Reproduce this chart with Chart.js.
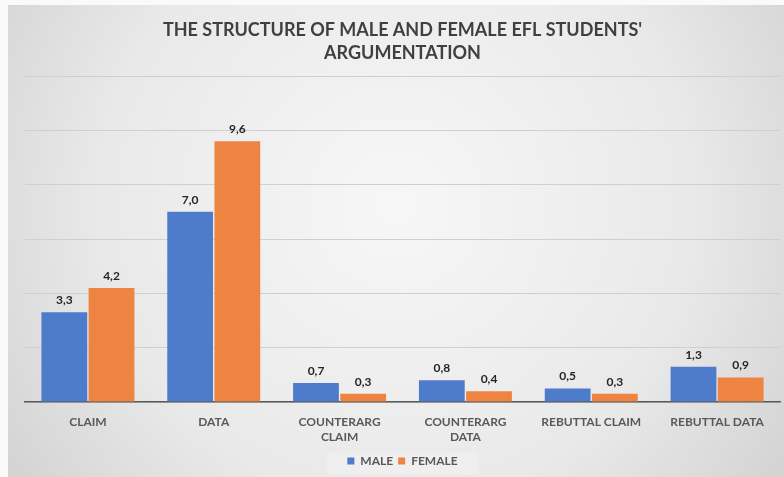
<!DOCTYPE html>
<html>
<head>
<meta charset="utf-8">
<script src="https://cdn.jsdelivr.net/npm/chart.js@4.4.2/dist/chart.umd.min.js"></script>
<style>
  html, body { margin: 0; padding: 0; background: #fafafa; }
  #wrap { position: absolute; left: 8px; top: 5px; width: 776px; height: 472px; }
</style>
</head>
<body>
<div id="wrap"><canvas id="chart"></canvas></div>
<script>
// données
const categories = ['CLAIM', 'DATA', ['COUNTERARG', 'CLAIM'], ['COUNTERARG', 'DATA'], 'REBUTTAL CLAIM', 'REBUTTAL DATA'];
const maleValues = [3.3, 7.0, 0.7, 0.8, 0.5, 1.3];
const femaleValues = [4.2, 9.6, 0.3, 0.4, 0.3, 0.9];
const seriesNames = ['MALE', 'FEMALE'];
const titleLines = ['THE STRUCTURE OF MALE AND FEMALE EFL STUDENTS\'', 'ARGUMENTATION'];

const FONT = 'Lato, "Noto Sans", sans-serif';

// fond dégradé gris + cadre de légende
const backgroundPlugin = {
  id: 'bgGradient',
  beforeDraw(chart) {
    const { ctx, width, height } = chart;
    const g = ctx.createRadialGradient(width / 2, height * 0.42, 20, width / 2, height * 0.42, width * 0.62);
    g.addColorStop(0, '#f6f6f6');
    g.addColorStop(0.6, '#e9e9e9');
    g.addColorStop(1, '#d2d2d2');
    ctx.save();
    ctx.fillStyle = g;
    ctx.fillRect(0, 0, width, height);
    const lg = chart.legend;
    if (lg) {
      ctx.fillStyle = 'rgba(240,240,240,0.85)';
      const w = 152, h = 22;
      ctx.fillRect(lg.left + lg.width / 2 - w / 2, lg.top + lg.height / 2 - h / 2, w, h);
    }
    ctx.restore();
  }
};

// étiquettes de valeurs au-dessus des barres
const valueLabels = {
  id: 'valueLabels',
  afterDatasetsDraw(chart) {
    const { ctx } = chart;
    ctx.save();
    ctx.font = 'bold 12px ' + FONT;
    ctx.fillStyle = '#262626';
    ctx.textAlign = 'center';
    ctx.textBaseline = 'bottom';
    chart.data.datasets.forEach((ds, i) => {
      chart.getDatasetMeta(i).data.forEach((bar, j) => {
        ctx.fillText(ds.data[j].toFixed(1).replace('.', ','), bar.x, bar.y - 6);
      });
    });
    ctx.restore();
  }
};

new Chart(document.getElementById('chart'), {
  type: 'bar',
  data: {
    labels: categories,
    datasets: [
      { label: seriesNames[0], data: maleValues, backgroundColor: '#4f7bcb' },
      { label: seriesNames[1], data: femaleValues, backgroundColor: '#ee8441' }
    ]
  },
  options: {
    responsive: true,
    maintainAspectRatio: false,
    animation: false,
    datasets: { bar: { barPercentage: 0.97, categoryPercentage: 0.75 } },
    layout: { padding: { left: 17, right: 4, top: 0, bottom: 0 } },
    plugins: {
      title: {
        display: true,
        text: titleLines,
        color: '#404040',
        font: { family: FONT, size: 18, weight: 'bold', lineHeight: 1.25 },
        padding: { top: 14, bottom: 12 }
      },
      legend: {
        position: 'bottom',
        labels: {
          boxWidth: 7,
          boxHeight: 7,
          padding: 5,
          color: '#595959',
          font: { family: FONT, size: 12, weight: 'bold' }
        }
      },
      tooltip: { enabled: false }
    },
    scales: {
      x: {
        grid: { display: false },
        border: { color: '#595959', width: 1.5 },
        ticks: {
          color: '#595959',
          font: { family: FONT, size: 12, weight: 'bold', lineHeight: 1.25 },
          padding: 5,
          maxRotation: 0,
          autoSkip: false
        }
      },
      y: {
        display: true,
        min: 0,
        max: 12,
        ticks: { display: false, stepSize: 2 },
        border: { display: false },
        grid: { color: '#cfcfcf', lineWidth: 1, drawTicks: false }
      }
    }
  },
  plugins: [backgroundPlugin, valueLabels]
});
</script>
</body>
</html>
